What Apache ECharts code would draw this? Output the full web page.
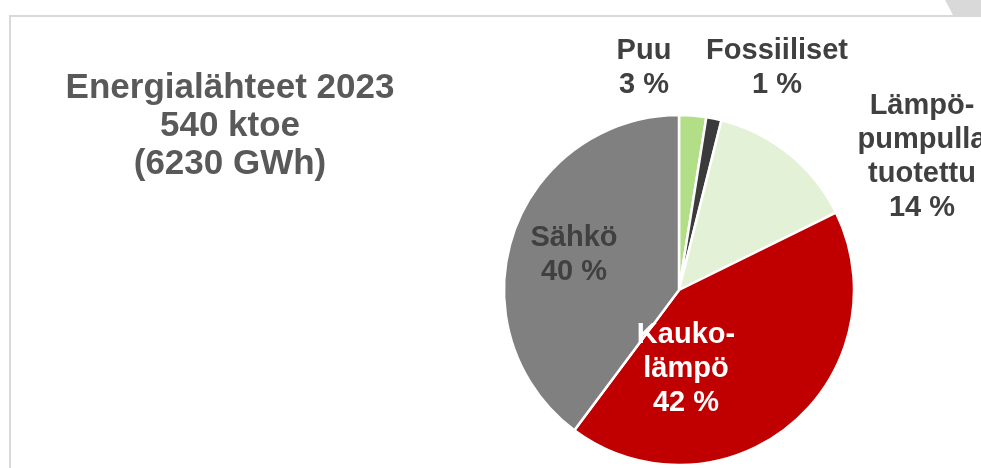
<!DOCTYPE html>
<html>
<head>
<meta charset="utf-8">
<script src="https://cdn.jsdelivr.net/npm/echarts@6/dist/echarts.min.js"></script>
<style>
  html, body { margin: 0; padding: 0; background: #fff; }
  #chart { width: 981px; height: 468px; }
</style>
</head>
<body>
<div id="chart"></div>
<script>
// energialähteet 2023, osuudet (%)
var names = ['Puu', 'Fossiiliset', 'Lämpö-\npumpulla\ntuotettu', 'Kauko-\nlämpö', 'Sähkö'];
var shares = [2.5, 1.4, 13.8, 42.5, 39.8];
var labelPct = [3, 1, 14, 42, 40];
var colors = ['#b3de88', '#3b3b3b', '#e3f2d6', '#c00000', '#808080'];
var titleLines = ['Energialähteet 2023', '540 ktoe', '(6230 GWh)'];

var chart = echarts.init(document.getElementById('chart'), null, { renderer: 'canvas' });

// label anchor points (centre of text block)
var labelPos = [[644, 68], [777, 68], [922, 157], [686, 369], [574, 255]];

var pieData = names.map(function (n, i) {
  return {
    name: n,
    value: shares[i],
    itemStyle: { color: colors[i] },
    label: { color: i == 3 ? '#ffffff' : '#404040' }
  };
});

var option = {
  animation: false,
  graphic: [
    {
      type: 'rect',
      shape: { x: 10, y: 16, width: 1100, height: 600 },
      style: { fill: 'none', stroke: '#d9d9d9', lineWidth: 2 },
      z: 0
    },
    {
      type: 'polygon',
      shape: { points: [[945, 0], [981, 0], [981, 15], [953, 15]] },
      style: { fill: '#d9d9d9' },
      z: 0
    },
    {
      type: 'text',
      x: 230,
      y: 126,
      style: {
        text: titleLines.join('\n'),
        align: 'center',
        verticalAlign: 'middle',
        fill: '#595959',
        font: 'bold 35px "Liberation Sans", Arial, sans-serif',
        lineHeight: 38
      },
      z: 5
    }
  ],
  series: [
    {
      type: 'pie',
      center: [679, 290],
      radius: 175,
      startAngle: 90,
      clockwise: true,
      data: pieData,
      itemStyle: { borderColor: '#ffffff', borderWidth: 2.5 },
      emphasis: { disabled: true },
      label: {
        show: true,
        position: 'inside',
        fontFamily: '"Liberation Sans", Arial, sans-serif',
        fontWeight: 'bold',
        fontSize: 29,
        lineHeight: 34,
        align: 'center',
        formatter: function (p) {
          return p.name + '\n' + labelPct[p.dataIndex] + ' %';
        }
      },
      labelLine: { show: false },
      labelLayout: function (p) {
        var pt = labelPos[p.dataIndex];
        return { x: pt[0], y: pt[1], align: 'center', verticalAlign: 'middle' };
      }
    }
  ]
};

chart.setOption(option);
</script>
</body>
</html>
